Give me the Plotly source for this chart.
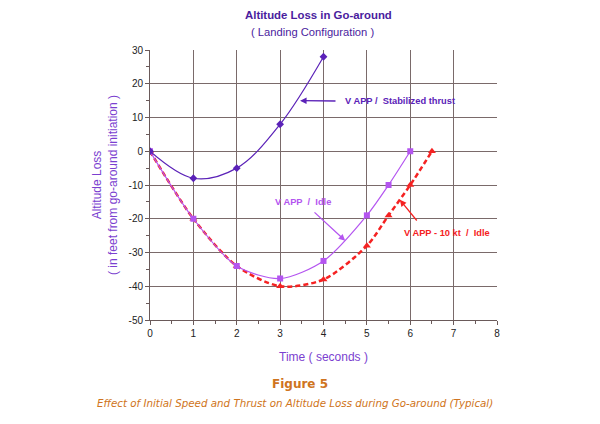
import plotly.graph_objects as go

# Data
t_stab = [0, 1, 2, 3, 4]
alt_stab = [0, -8, -5, 8, 28]

t_idle = [0, 1, 2, 3, 4, 5, 5.5, 6]
alt_idle = [0, -20, -34, -37.7, -32.5, -19, -10, 0]

t_10kt = [0, 1, 2, 3, 4, 5, 5.5, 6, 6.5]
alt_10kt = [0, -20, -34, -40, -38, -28, -19, -10, 0]

x_ticks = [0, 1, 2, 3, 4, 5, 6, 7, 8]
y_ticks = [-50, -40, -30, -20, -10, 0, 10, 20, 30]
y_ticklabels = ["-50", "-40", "-30", "-20", "-10", "0", "10", "20", "30"]

C_STAB = "#5b22b8"
C_IDLE = "#b455f0"
C_10KT = "#f52222"
C_TITLE = "#4a1c9e"
C_AXTITLE = "#7b3fd0"
C_ORANGE = "#cf7420"

fig = go.Figure()
fig.add_trace(go.Scatter(x=t_10kt, y=alt_10kt, mode="lines+markers",
                         line=dict(color=C_10KT, width=2.5, dash="5px,3px", shape="spline", smoothing=0.8),
                         marker=dict(symbol="triangle-up", size=7, color=C_10KT)))
fig.add_trace(go.Scatter(x=t_idle, y=alt_idle, mode="lines+markers",
                         line=dict(color=C_IDLE, width=1.2, shape="spline", smoothing=0.8),
                         marker=dict(symbol="square", size=6, color=C_IDLE)))
fig.add_trace(go.Scatter(x=t_stab, y=alt_stab, mode="lines+markers",
                         line=dict(color=C_STAB, width=1.2, shape="spline", smoothing=1.0),
                         marker=dict(symbol="diamond", size=6, color=C_STAB)))

grid = "#7a6a6a"
fig.update_xaxes(range=[0, 8], tickvals=x_ticks, showgrid=True, gridcolor=grid, gridwidth=1,
                 showline=True, linecolor="#6a5a5a", linewidth=1, zeroline=False,
                 ticks="outside", ticklen=4, tickcolor="#6a5a5a",
                 minor=dict(dtick=0.5, ticks="outside", ticklen=3, tickcolor="#6a5a5a", showgrid=False),
                 tickfont=dict(family="Liberation Sans, Arial", size=10, color="#222"),
                 title=dict(text="Time ( seconds )", font=dict(family="Liberation Sans, Arial", size=12, color=C_AXTITLE), standoff=14))
fig.update_yaxes(range=[-50, 30], tickvals=y_ticks, ticktext=y_ticklabels, showgrid=True, gridcolor=grid, gridwidth=1,
                 showline=True, linecolor="#6a5a5a", linewidth=1, zeroline=False,
                 ticks="outside", ticklen=4, tickcolor="#6a5a5a",
                 minor=dict(dtick=5, ticks="outside", ticklen=3, tickcolor="#6a5a5a", showgrid=False),
                 tickfont=dict(family="Liberation Sans, Arial", size=10, color="#222"),
                 title=dict(text="Altitude Loss<br>( in feet from go-around initiation )",
                            font=dict(family="Liberation Sans, Arial", size=12, color=C_AXTITLE), standoff=8))

# arrows: head in data coords, tail given in page pixels
arrows = [
    dict(x=3.46, y=15, tx=337, ty=101, color=C_STAB),
    dict(x=4.5, y=-26.5, tx=313, ty=211, color=C_IDLE),
    dict(x=5.76, y=-14.4, tx=418, ty=222, color=C_10KT),
]
fixed = []
for a in arrows:
    hx = 150 + a["x"] * 43.375
    hy = 50 + (30 - a["y"]) * 3.375
    fixed.append(dict(x=a["x"], y=a["y"], ax=a["tx"] - hx, ay=a["ty"] - hy, text="", showarrow=True,
                      arrowhead=2, arrowsize=1, arrowwidth=1.3, arrowcolor=a["color"]))

texts = [
    dict(text="<b>V APP /  Stabilized thrust</b>", x=343, y=101, color=C_STAB, size=9.3),
    dict(text="<b>V APP  /  Idle</b>", x=273, y=202, color=C_IDLE, size=9.3),
    dict(text="<b>V APP - 10 kt  /  Idle</b>", x=402, y=233, color=C_10KT, size=9.3),
]
for t in texts:
    fixed.append(dict(text=t["text"], x=t["x"] / 600, y=1 - t["y"] / 424, xref="paper", yref="paper",
                      xanchor="left", yanchor="middle", showarrow=False,
                      font=dict(family="Liberation Sans, Arial", size=t["size"], color=t["color"])))

fixed += [
    dict(text="<b>Altitude Loss in Go-around</b>", x=318 / 600, y=1 - 15 / 424, xref="paper", yref="paper",
         xanchor="center", yanchor="middle", showarrow=False,
         font=dict(family="Liberation Sans, Arial", size=11.4, color=C_TITLE)),
    dict(text="( Landing Configuration )", x=313 / 600, y=1 - 32 / 424, xref="paper", yref="paper",
         xanchor="center", yanchor="middle", showarrow=False,
         font=dict(family="Liberation Sans, Arial", size=11.2, color=C_TITLE)),
    dict(text="<b>Figure 5</b>", x=300 / 600, y=1 - 384 / 424, xref="paper", yref="paper",
         xanchor="center", yanchor="middle", showarrow=False,
         font=dict(family="DejaVu Sans, Verdana", size=12, color=C_ORANGE)),
    dict(text="<i>Effect of Initial Speed and Thrust on Altitude Loss during Go-around (Typical)</i>",
         x=295 / 600, y=1 - 403 / 424, xref="paper", yref="paper",
         xanchor="center", yanchor="middle", showarrow=False,
         font=dict(family="DejaVu Sans, Verdana", size=10.3, color=C_ORANGE)),
]

L, R, T, B = 150, 103, 50, 104
W, H = 600 - L - R, 424 - T - B
for a in fixed:
    if a.get("xref") == "paper":
        px = a["x"] * 600
        py = (1 - a["y"]) * 424
        a["x"] = (px - L) / W
        a["y"] = 1 - (py - T) / H

fig.update_layout(width=600, height=424, margin=dict(l=L, r=R, t=T, b=B),
                  paper_bgcolor="white", plot_bgcolor="white", showlegend=False,
                  annotations=fixed)

fig.write_html("out.html")
